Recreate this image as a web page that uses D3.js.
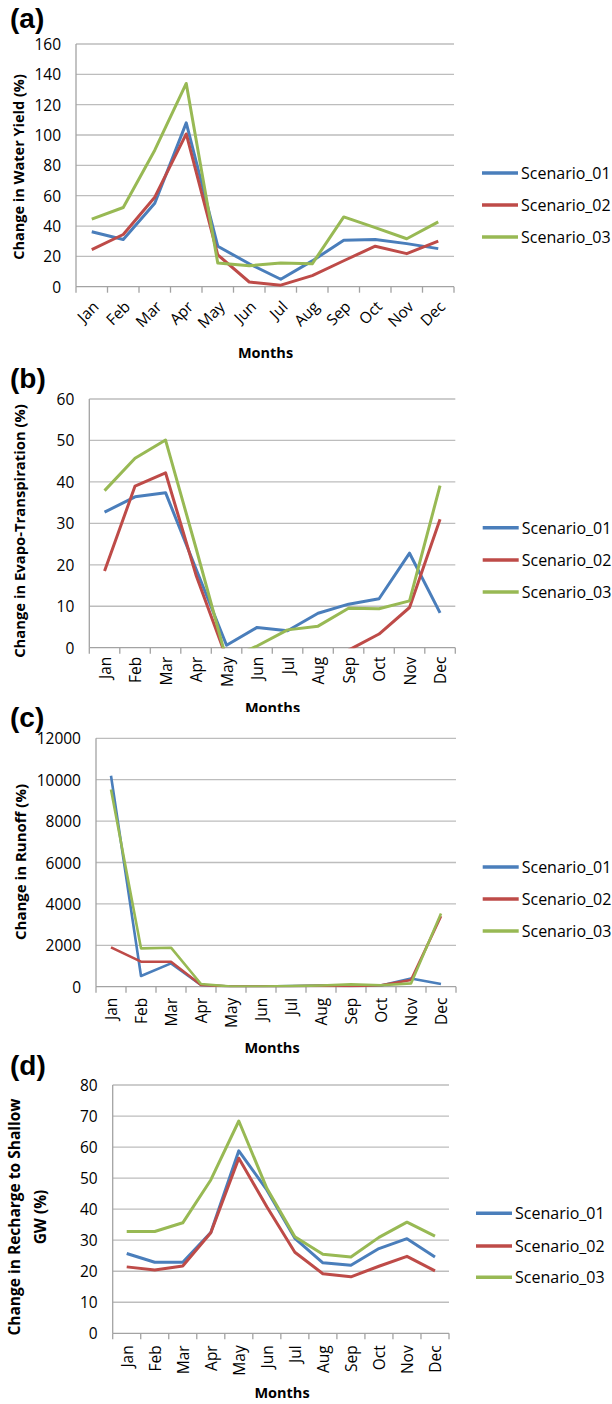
<!DOCTYPE html>
<html><head><meta charset="utf-8">
<script src="https://cdn.jsdelivr.net/npm/d3@7"></script>
<style>
html,body{margin:0;padding:0;background:#fff;}
svg{display:block;}
text{font-family:"Open Sans",sans-serif;fill:#000;}
</style></head>
<body>
<svg id="chart" width="612" height="1404"></svg>
<script>
const months = ["Jan","Feb","Mar","Apr","May","Jun","Jul","Aug","Sep","Oct","Nov","Dec"];
const seriesNames = ["Scenario_01","Scenario_02","Scenario_03"];

// (a) Water yield
const waterYield01 = [36.2, 31.1, 55, 108, 26.7, 15.1, 4.9, 17, 30.7, 31.1, 28.4, 25.1];
const waterYield02 = [24.4, 34.4, 59, 100.7, 21, 3.1, 1, 7.3, 17.1, 26.7, 21.8, 30];
const waterYield03 = [44.5, 52.2, 90, 134, 15.6, 13.8, 15.6, 15.1, 46, 38.9, 31.6, 42.7];
const waterYieldTicks = [0, 20, 40, 60, 80, 100, 120, 140, 160];

// (b) Evapo-transpiration (values below 0 are cut off by the axis)
const et01 = [32.7, 36.4, 37.4, 19, 0.6, 4.9, 4.1, 8.3, 10.5, 11.8, 22.8, 8.4];
const et02 = [18.5, 39, 42.2, 17.5, -2.5, -6, -8, -5, -0.6, 3.3, 9.7, 31];
const et03 = [37.9, 45.7, 50.1, 24, -2.9, 0.4, 4.3, 5.2, 9.5, 9.4, 11.3, 39.1];
const etTicks = [0, 10, 20, 30, 40, 50, 60];

// (c) Runoff
const runoff01 = [10190, 515, 1127, 80, 10, 10, 30, 60, 40, 60, 400, 130];
const runoff02 = [1900, 1208, 1208, 80, 10, 10, 20, 40, 30, 70, 320, 3410];
const runoff03 = [9530, 1852, 1884, 130, 10, 10, 30, 60, 110, 70, 160, 3540];
const runoffTicks = [0, 2000, 4000, 6000, 8000, 10000, 12000];

// (d) Recharge to shallow GW
const gw01 = [25.7, 22.9, 22.9, 32.5, 58.8, 46.2, 30.6, 22.7, 21.9, 27.3, 30.5, 24.6];
const gw02 = [21.4, 20.4, 21.7, 32.4, 56.4, 40.8, 26.1, 19.2, 18.2, 21.6, 24.8, 20.1];
const gw03 = [32.8, 32.8, 35.6, 49.4, 68.4, 46.7, 31.1, 25.5, 24.6, 30.9, 35.8, 31.3];
const gwTicks = [0, 10, 20, 30, 40, 50, 60, 70, 80];

const colors = ["#4a7ebb", "#be4b48", "#98b954"];

const svg = d3.select("#chart");

function drawPanel(p) {
  const g = svg.append("g");
  const x = d3.scaleBand().domain(months).range([p.x0, p.x1]);
  const y = d3.scaleLinear().domain([0, d3.max(p.ticks)]).range([p.yb, p.yt]);

  // gridlines
  g.selectAll("line.grid").data(p.ticks.slice(1)).enter().append("line")
    .attr("x1", p.x0).attr("x2", p.x1)
    .attr("y1", d => y(d)).attr("y2", d => y(d))
    .attr("stroke", "#bdbdbd").attr("stroke-width", 1.3);

  // axes lines
  g.append("line").attr("x1", p.x0).attr("x2", p.x1).attr("y1", y(0)).attr("y2", y(0))
    .attr("stroke", "#a3a3a3").attr("stroke-width", 1.3);
  g.append("line").attr("x1", p.x0).attr("x2", p.x0).attr("y1", y(0)).attr("y2", y(d3.max(p.ticks)))
    .attr("stroke", "#a3a3a3").attr("stroke-width", 1.3);

  // x tick marks at band boundaries
  const bounds = months.map(m => x(m)).concat([p.x1]);
  g.selectAll("line.xt").data(bounds).enter().append("line")
    .attr("x1", d => d).attr("x2", d => d)
    .attr("y1", y(0)).attr("y2", y(0) + 6)
    .attr("stroke", "#a3a3a3").attr("stroke-width", 1.3);

  // y tick labels
  g.selectAll("text.yt").data(p.ticks).enter().append("text")
    .attr("x", p.x0 - 15).attr("y", d => y(d))
    .attr("text-anchor", "end").attr("dominant-baseline", "central")
    .style("font-size", "15.5px").text(d => d);

  // x tick labels
  g.selectAll("text.xl").data(months).enter().append("text")
    .attr("transform", d => {
      const cx = x(d) + x.bandwidth() / 2;
      if (p.rot === -45) return `translate(${cx + 8},${y(0) + 21}) rotate(-45)`;
      return `translate(${cx},${y(0) + p.xlGap}) rotate(-90)`;
    })
    .attr("text-anchor", "end")
    .attr("dominant-baseline", p.rot === -45 ? "auto" : "central")
    .style("font-size", "15.5px").text(d => d);

  // lines (clipped to plot area)
  const cid = "clip" + p.id;
  svg.append("clipPath").attr("id", cid).append("rect")
    .attr("x", p.x0).attr("y", p.yt - 5).attr("width", p.x1 - p.x0 + 5).attr("height", y(0) - p.yt + 5.6);
  const line = d3.line().x((d, i) => x(months[i]) + x.bandwidth() / 2).y(d => y(d));
  g.append("g").attr("clip-path", `url(#${cid})`)
    .selectAll("path").data(p.series).enter().append("path")
    .attr("d", d => line(d)).attr("fill", "none")
    .attr("stroke", (d, i) => colors[i]).attr("stroke-width", p.lw)
    .attr("stroke-linejoin", "round");

  // panel letter
  g.append("text").attr("x", 10).attr("y", p.letterY)
    .style("font-family", "'Liberation Sans', Arial, sans-serif")
    .style("font-weight", "bold").style("font-size", "28px").text(p.letter);

  // y-axis title
  p.ytitle.forEach((t, i) => {
    g.append("text")
      .attr("transform", `translate(${p.ytitleX[i]},${p.ytitleY}) rotate(-90)`)
      .attr("text-anchor", "middle").attr("dominant-baseline", "central")
      .style("font-weight", "bold").style("font-size", p.ytitleSize + "px").text(t);
  });

  // x-axis title
  g.append("text").attr("x", p.xtitleX).attr("y", p.xtitleY)
    .attr("text-anchor", "middle").style("font-weight", "bold").style("font-size", "14.5px").text("Months");

  // legend
  seriesNames.forEach((s, i) => {
    const ly = p.legY[i];
    g.append("line").attr("x1", p.legX).attr("x2", p.legX + 36).attr("y1", ly).attr("y2", ly)
      .attr("stroke", colors[i]).attr("stroke-width", 3.5);
    g.append("text").attr("x", p.legX + 39).attr("y", ly).attr("dominant-baseline", "central")
      .style("font-size", "16px").text(s);
  });
}

drawPanel({id: "a", letter: "(a)", letterY: 28, x0: 76, x1: 454, yt: 44, yb: 286.7,
  ticks: waterYieldTicks, series: [waterYield01, waterYield02, waterYield03], rot: -45, lw: 3,
  ytitle: ["Change in Water Yield (%)"], ytitleX: [18.5], ytitleY: 167, ytitleSize: 14.5,
  xtitleX: 265.5, xtitleY: 358, legX: 482, legY: [173, 205, 237]});

drawPanel({id: "b", letter: "(b)", letterY: 388, x0: 89.3, x1: 455.3, yt: 399, yb: 647.7,
  ticks: etTicks, series: [et01, et02, et03], rot: -90, xlGap: 9, lw: 3,
  ytitle: ["Change in Evapo-Transpiration  (%)"], ytitleX: [18.5], ytitleY: 531, ytitleSize: 14.8,
  xtitleX: 272.5, xtitleY: 713, legX: 482.7, legY: [527.7, 560, 592]});

// white background of panel (c) hides the bottom of the previous x title
svg.append("rect").attr("x", 60).attr("y", 712).attr("width", 552).attr("height", 328).attr("fill", "#fff");

drawPanel({id: "c", letter: "(c)", letterY: 727, x0: 96, x1: 456, yt: 738.3, yb: 986.7,
  ticks: runoffTicks, series: [runoff01, runoff02, runoff03], rot: -90, xlGap: 11, lw: 2.6,
  ytitle: ["Change in Runoff (%)"], ytitleX: [19.5], ytitleY: 862, ytitleSize: 15,
  xtitleX: 272, xtitleY: 1053, legX: 482.7, legY: [867, 899, 931]});

drawPanel({id: "d", letter: "(d)", letterY: 1075, x0: 112.7, x1: 449, yt: 1085, yb: 1333.3,
  ticks: gwTicks, series: [gw01, gw02, gw03], rot: -90, xlGap: 12, lw: 3,
  ytitle: ["Change in Recharge to Shallow", "GW (%)"], ytitleX: [14, 40], ytitleY: 1217, ytitleSize: 15.5,
  xtitleX: 282, xtitleY: 1398, legX: 476, legY: [1213.3, 1246, 1277.3]});
</script>
</body></html>
